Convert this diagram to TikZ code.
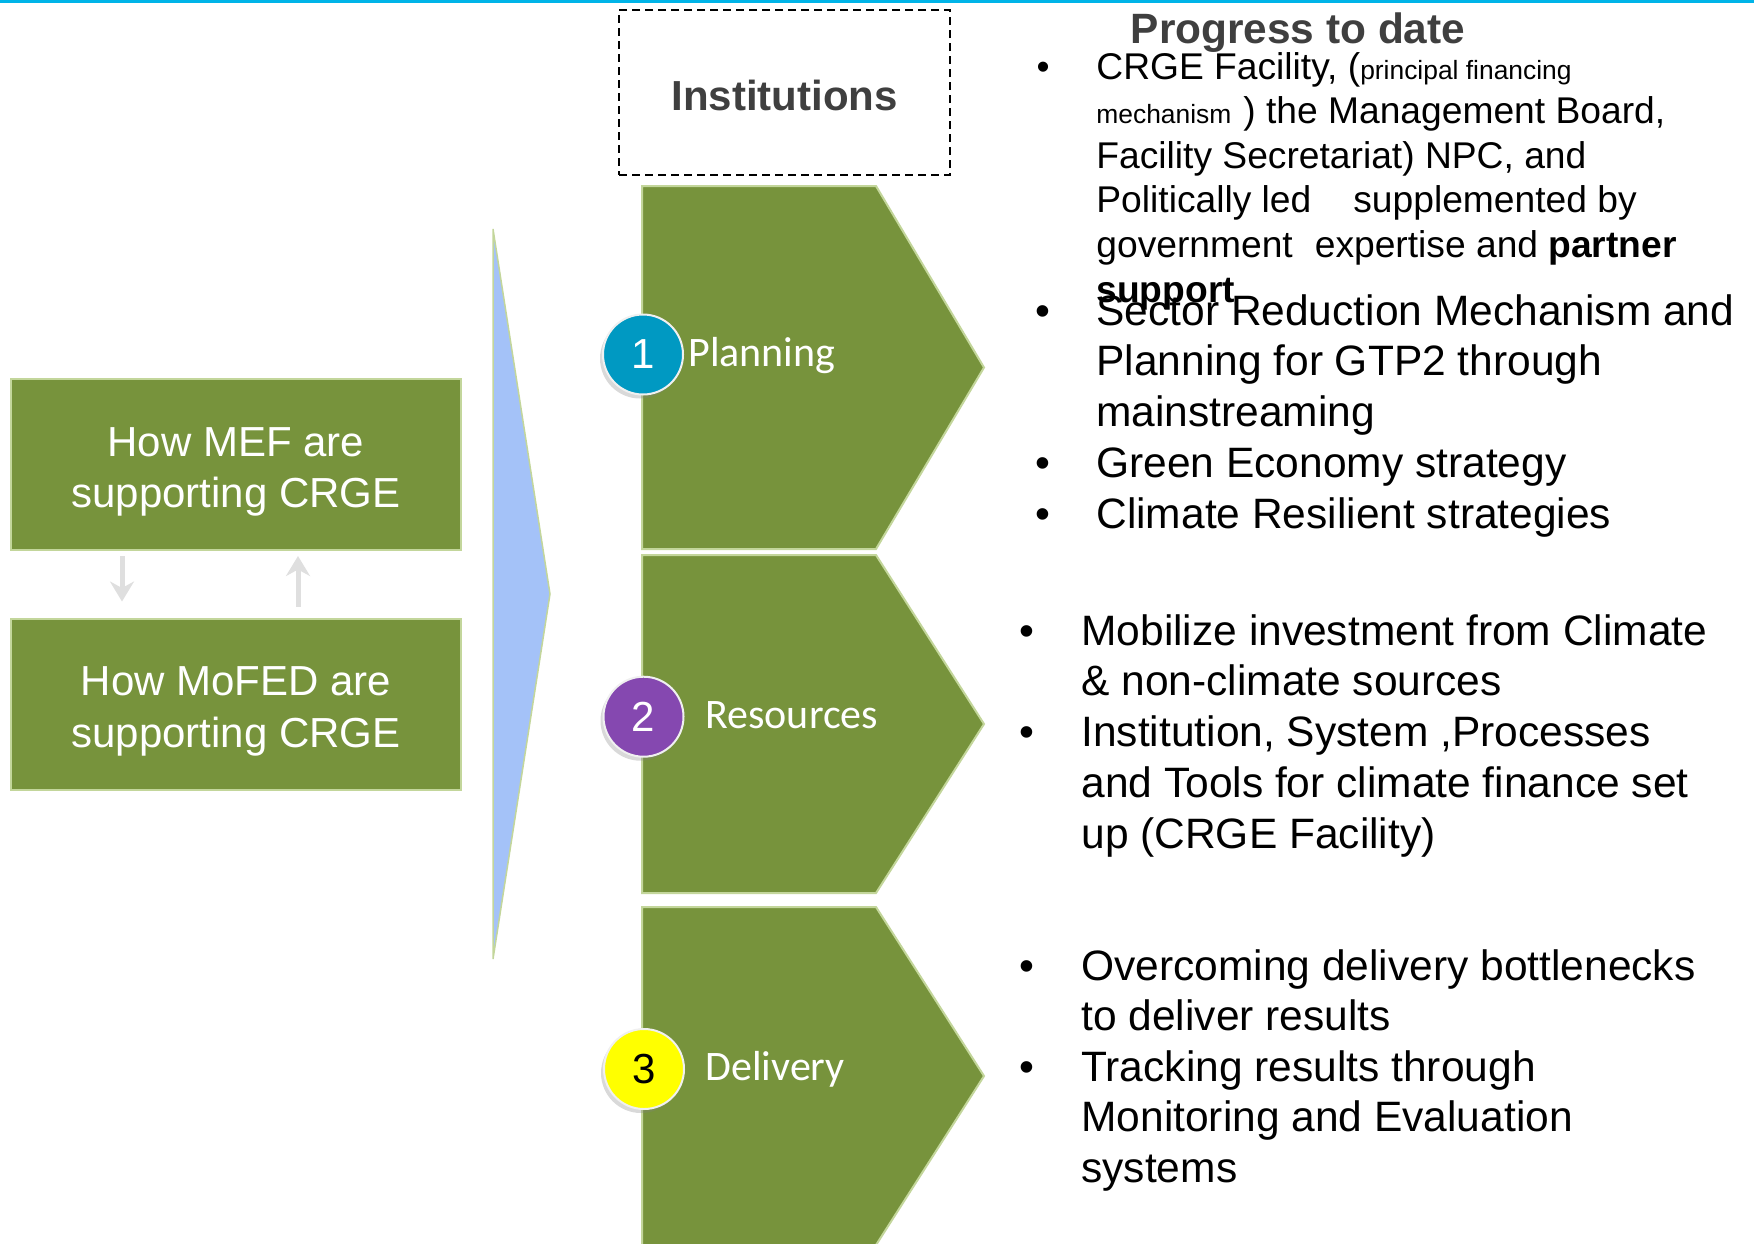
\documentclass[tikz,border=0pt]{standalone}
\usepackage{fontspec}
\setmainfont{Liberation Sans}
\newfontfamily\calibri{Carlito}
\usetikzlibrary{arrows.meta,shadows}
\definecolor{leafgreen}{HTML}{77933C}
\definecolor{paleline}{HTML}{C3D69B}
\definecolor{skyfill}{HTML}{A4C2F8}
\definecolor{tealdot}{HTML}{0099C2}
\definecolor{plumdot}{HTML}{8548B0}
\definecolor{sundot}{HTML}{FFFF00}
\definecolor{inkgray}{HTML}{3F3F3F}
\definecolor{topline}{HTML}{00B4E8}
\tikzset{
  lbox/.style={rectangle, fill=leafgreen, draw=paleline, line width=1pt,
    minimum width=225pt, minimum height=85.5pt, text=white, align=center,
    font=\fontsize{21}{25.7}\selectfont},
  chev/.style={fill=leafgreen, draw=paleline, line width=1pt},
  stage/.style={anchor=base west, inner sep=0pt, text=white,
    font=\calibri\fontsize{21}{25}\selectfont},
  numdot/.style={circle, minimum size=40pt, inner sep=0pt, draw=white!88!gray,
    line width=1pt, drop shadow={shadow xshift=-1.5pt, shadow yshift=-2pt, opacity=0.3},
    font=\fontsize{21}{25}\selectfont},
  garrow/.style={draw=gray!25, line width=2.5pt, -{Stealth[length=10pt,width=12pt]}},
  item/.style={anchor=base west, align=left, inner sep=0pt,
    font=\fontsize{21.25}{25.4}\selectfont},
  smallitem/.style={anchor=base west, align=left, inner sep=0pt,
    font=\fontsize{18.6}{22.3}\selectfont},
  bul/.style={anchor=base, inner sep=0pt, font=\fontsize{21.25}{25.4}\selectfont},
  smallbul/.style={anchor=base, inner sep=0pt, font=\fontsize{18.6}{22.3}\selectfont}
}
\begin{document}
\begin{tikzpicture}[x=0.5pt,y=-0.5pt]
\useasboundingbox (0,0) rectangle (1754,1243);
\fill[topline] (0,0) rectangle (1754,2.5);

\node[lbox] (mef) at (236,464.5) {\rule{0pt}{22pt}How MEF are\\supporting CRGE};
\node[lbox] (mofed) at (236,704) {\rule{0pt}{22pt}How MoFED are\\supporting CRGE};
\draw[garrow] ([shift={(112,5)}]mef.south west) -- ([shift={(112,-16)}]mofed.north west);
\draw[garrow] ([shift={(288,-11)}]mofed.north west) -- ([shift={(288,5)}]mef.south west);

\fill[skyfill, draw=paleline, line width=0.75pt] (493,229) -- (550,594) -- (493,959) -- cycle;

\node[draw, dashed, line width=1pt, dash pattern=on 4pt off 2.5pt, minimum width=165.5pt,
  minimum height=82.5pt, text height=18.4pt, text=inkgray, font=\bfseries\fontsize{21}{25}\selectfont]
  (inst) at (784.5,92.5) {Institutions};

\draw[chev] (642,186) coordinate (plan) -- (876,186) -- (984,367.5) -- (876,549) -- (642,549) -- cycle;
\draw[chev] (642,555) coordinate (res) -- (876,555) -- (984,724) -- (876,893) -- (642,893) -- cycle;
\draw[chev] (642,907) coordinate (deliv) -- (876,907) -- (984,1076) -- (876,1245) -- (642,1245) -- cycle;
\node[stage] (lplan) at (688,366) {Planning};
\node[stage] (lres) at (705,728) {Resources};
\node[stage] (ldeliv) at (705,1080) {Delivery};
\node[numdot, fill=tealdot, text=white] (n1) at (643,354.5) {1};
\node[numdot, fill=plumdot, text=white] (n2) at (643.5,716.7) {2};
\node[numdot, fill=sundot, text=black] (n3) at (644,1069) {3};

\node[anchor=base, inner sep=0pt, text=inkgray, font=\bfseries\fontsize{21.2}{25}\selectfont]
  (prog) at (1298,43) {Progress to date};
% multi-line items sit on the baseline of their last line
\node[smallbul] (ba) at (1043,79) {•};
\node[smallitem] (pa) at (1096,302) {CRGE Facility, ({\fontsize{13.2}{15}\selectfont principal financing}\\
  {\fontsize{13.2}{15}\selectfont mechanism}\hspace{6pt}) the Management Board,\\
  Facility Secretariat) NPC, and\\
  Politically led\hspace{21pt}supplemented by\\
  government\hspace{11pt}expertise and \textbf{partner}\\
  \textbf{support}};
\node[bul] (bb) at (1043,325) {•};
\node[item] (pb) at (1096,426.6) {Sector Reduction Mechanism and\\Planning for GTP2 through\\mainstreaming};
\node[bul] (bc) at (1043,477.4) {•};
\node[item] (pc) at (1096,477.4) {Green Economy strategy};
\node[bul] (bd) at (1043,528.2) {•};
\node[item] (pd) at (1096,528.2) {Climate Resilient strategies};

\node[bul] (be) at (1027,645) {•};
\node[item] (ra) at (1081,695.8) {Mobilize investment from Climate\\\& non-climate sources};
\node[bul] (bf) at (1027,746.6) {•};
\node[item] (rb) at (1081,848.2) {Institution, System ,Processes\\and Tools for climate finance set\\up (CRGE Facility)};

\node[bul] (bg) at (1027,980) {•};
\node[item] (da) at (1081,1030.8) {Overcoming delivery bottlenecks\\to deliver results};
\node[bul] (bh) at (1027,1081) {•};
\node[item] (db) at (1081,1182.6) {Tracking results through\\Monitoring and Evaluation\\systems};
\end{tikzpicture}
\end{document}
